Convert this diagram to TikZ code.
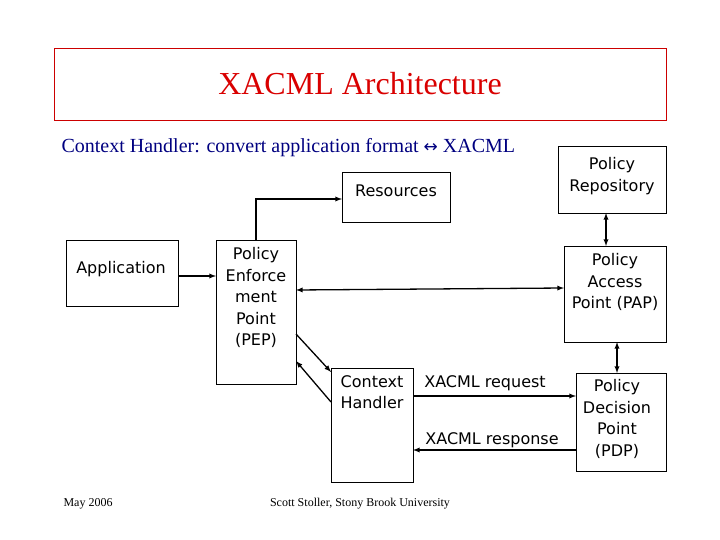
\documentclass[tikz,border=0pt]{standalone}
\usepackage{fontspec}
\setmainfont{Liberation Serif}
\newfontfamily\vfont{DejaVu Sans}
\begin{document}
\begin{tikzpicture}[x=1pt,y=-1pt,
  box/.style={draw,line width=0.8pt,inner sep=0pt},
  lbl/.style={font=\vfont\fontsize{16}{21.5}\selectfont,align=center},
  arr/.style={line width=1.3pt,-latex},
  darr/.style={line width=1.3pt,latex-latex}]
\useasboundingbox (0,0) rectangle (720,540);
\node[draw=red!80!black,line width=0.6pt,minimum width=612pt,minimum height=72pt,
  font=\fontsize{32}{36}\selectfont,text=red!85!black] (title) at (360,84) {XACML Architecture};
\node[anchor=west,font=\fontsize{20}{24}\selectfont,text=blue!50!black] (ctx) at (58,148) {Context Handler: convert application format {\vfont\fontsize{17}{20}\selectfont↔} XACML};
% boxes
\draw[box] (342,172) rectangle (450,222); \node[lbl] (res) at (396,191) {Resources};
\coordinate (resL) at (342,199);
\draw[box] (558,146) rectangle (666,213); \node[lbl] (rep) at (612,176) {Policy\\Repository};
\draw[box] (66,240) rectangle (178,306); \node[lbl] (app) at (121,269) {Application};
\draw[box] (216,240) rectangle (296,384); \node[lbl,anchor=north] (pep) at (256,244) {Policy\\Enforce\\ment\\Point\\(PEP)};
\draw[box] (564,246) rectangle (666,342); \node[lbl,anchor=north] (pap) at (615,250) {Policy\\Access\\Point (PAP)};
\draw[box] (331,368) rectangle (413,482); \node[lbl,anchor=north] (ch) at (372,372) {Context\\Handler};
\draw[box] (576,373) rectangle (666,471); \node[lbl,anchor=north] (pdp) at (617,376) {Policy\\Decision\\Point\\(PDP)};
\node[lbl] (req) at (485,383) {XACML request};
\node[lbl] (resp) at (492,440) {XACML response};
% connectors
\coordinate (a1) at (178,276); \coordinate (a2) at (216,276);
\draw[arr] (a1) -- (a2);
\coordinate (p1) at (256,240); \coordinate (p2) at (256,199);
\draw[arr] (p1) -- (p2) -- (resL);
\coordinate (e1) at (296,290); \coordinate (e2) at (564,288);
\draw[darr] (e1) -- (e2);
\coordinate (r1) at (606,213); \coordinate (r2) at (606,246);
\draw[darr] (r1) -- (r2);
\coordinate (q1) at (617,342); \coordinate (q2) at (617,373);
\draw[darr] (q1) -- (q2);
\coordinate (c1) at (296,334); \coordinate (c2) at (331,372);
\draw[arr] (c1) -- (c2);
\coordinate (c3) at (331,402); \coordinate (c4) at (296,361);
\draw[arr] (c3) -- (c4);
\coordinate (x1) at (413,396); \coordinate (x2) at (576,396);
\draw[arr] (x1) -- (x2);
\coordinate (y1) at (576,450); \coordinate (y2) at (413,450);
\draw[arr] (y1) -- (y2);
% footer
\node[anchor=west,font=\fontsize{12}{14}\selectfont] (date) at (60,504) {May 2006};
\node[font=\fontsize{12}{14}\selectfont] (auth) at (360,504) {Scott Stoller, Stony Brook University};
\end{tikzpicture}
\end{document}
